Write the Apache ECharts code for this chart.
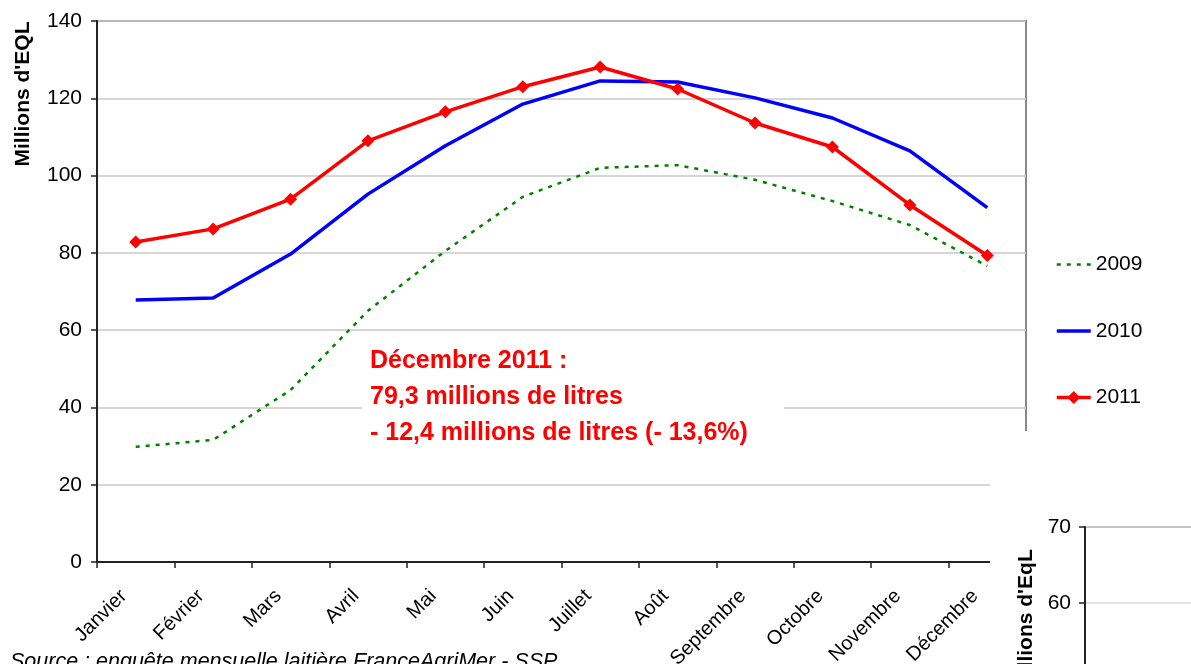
<!DOCTYPE html>
<html><head><meta charset="utf-8">
<script src="https://cdn.jsdelivr.net/npm/echarts@6/dist/echarts.min.js"></script>
<style>html,body{margin:0;padding:0;background:#fff}#c{width:1191px;height:664px}</style>
</head><body><div id="c"></div>
<script>
const months = ['Janvier','Février','Mars','Avril','Mai','Juin','Juillet','Août','Septembre','Octobre','Novembre','Décembre'];
const s2009 = [29.8, 31.6, 44.5, 65.0, 80.5, 94.5, 102.0, 102.7, 98.9, 93.4, 87.2, 76.6];
const s2010 = [67.8, 68.3, 79.7, 95.2, 107.7, 118.5, 124.5, 124.2, 120.1, 114.9, 106.4, 91.7];
const s2011 = [82.8, 86.2, 93.9, 109.0, 116.5, 123.0, 128.1, 122.4, 113.6, 107.4, 92.4, 79.3];
const yTicks = [0, 20, 40, 60, 80, 100, 120, 140];
const y2Ticks = [60, 70];
const yName = "Millions d'EQL";
const y2Name = "Millions d'EqL";
const noteLines = ['Décembre 2011 :', '79,3 millions de litres', '- 12,4 millions de litres (- 13,6%)'];
const sourceText = 'Source : enquête mensuelle laitière FranceAgriMer - SSP';

const FONT = 'Liberation Sans, Arial, sans-serif';
const GREEN = '#008000', BLUE = '#0000FF', RED = '#FF0000';
const chart = echarts.init(document.getElementById('c'), null, {renderer: 'canvas'});
chart.setOption({
  animation: false,
  backgroundColor: '#fff',
  textStyle: {fontFamily: FONT, color: '#000'},
  grid: [
    {left: 97, top: 21, width: 929, height: 541, show: true, borderColor: '#888', borderWidth: 2,
     backgroundColor: 'transparent', z: 0, containLabel: false, outerBoundsMode: 'none'},
    {left: 1085, top: 527, width: 200, height: 152, show: true, borderColor: '#888', borderWidth: 2,
     backgroundColor: '#fff', z: 10, containLabel: false, outerBoundsMode: 'none'}
  ],
  xAxis: [
    {type: 'category', gridIndex: 0, data: months, boundaryGap: true,
     axisLine: {lineStyle: {color: '#222', width: 2}},
     axisTick: {show: true, alignWithLabel: false, length: 6, lineStyle: {color: '#222', width: 1.5}},
     axisLabel: {rotate: 45, margin: 19, padding: [0, 17, 0, 0], fontSize: 20, color: '#000', fontFamily: FONT, interval: 0},
     splitLine: {show: false}},
    {type: 'value', gridIndex: 1, min: 0, max: 1, show: false}
  ],
  yAxis: [
    {type: 'value', gridIndex: 0, min: yTicks[0], max: yTicks[yTicks.length-1], interval: 20,
     axisLine: {show: true, lineStyle: {color: '#222', width: 2}},
     axisTick: {show: true, length: 6, inside: false, lineStyle: {color: '#222', width: 1.5}},
     axisLabel: {fontSize: 21, color: '#000', margin: 15, fontFamily: FONT},
     splitLine: {show: true, lineStyle: {color: '#c8c8c8', width: 1.5}}},
    {type: 'value', gridIndex: 1, min: 50, max: y2Ticks[y2Ticks.length-1], interval: 10, z: 11,
     axisLine: {show: true, lineStyle: {color: '#222', width: 2}},
     axisTick: {show: true, length: 6, lineStyle: {color: '#222', width: 1.5}},
     axisLabel: {fontSize: 21, color: '#000', margin: 14, fontFamily: FONT,
                 formatter: v => (y2Ticks.indexOf(v) >= 0 ? String(v) : '')},
     splitLine: {show: true, lineStyle: {color: '#d8d8d8', width: 1.5}}}
  ],
  legend: {
    orient: 'vertical', left: 1055, top: 254, padding: 0, itemWidth: 34, itemHeight: 16, itemGap: 45.5,
    textStyle: {fontSize: 21, color: '#000', fontFamily: FONT},
    data: [
      {name: '2009', itemStyle: {color: 'rgba(0,0,0,0)', opacity: 0}, lineStyle: {color: GREEN, width: 2.5, type: [4, 6]}},
      {name: '2010', itemStyle: {color: 'rgba(0,0,0,0)', opacity: 0}, lineStyle: {color: BLUE, width: 3.5}},
      {name: '2011', itemStyle: {color: RED}, lineStyle: {color: RED, width: 3.5}}
    ]
  },
  series: [
    {name: '2009', type: 'line', data: s2009, xAxisIndex: 0, yAxisIndex: 0, symbol: 'none',
     lineStyle: {color: GREEN, width: 2.5, type: [4, 6]}, itemStyle: {color: GREEN}},
    {name: '2010', type: 'line', data: s2010, xAxisIndex: 0, yAxisIndex: 0, symbol: 'none',
     lineStyle: {color: BLUE, width: 3.5}, itemStyle: {color: BLUE}},
    {name: '2011', type: 'line', data: s2011, xAxisIndex: 0, yAxisIndex: 0, symbol: 'diamond', symbolSize: 13,
     lineStyle: {color: RED, width: 3.5}, itemStyle: {color: RED}}
  ],
  graphic: [
    {type: 'rect', left: 990, top: 431, shape: {width: 201, height: 233}, style: {fill: '#fff'}, z: 5},
    {type: 'text', x: 23, y: 94, rotation: Math.PI / 2, z: 6,
     style: {text: yName, font: 'bold 21px ' + FONT, fill: '#000', align: 'center', verticalAlign: 'middle'}},
    {type: 'text', x: 1026, y: 620, rotation: Math.PI / 2, z: 12,
     style: {text: y2Name, font: 'bold 21px ' + FONT, fill: '#000', align: 'center', verticalAlign: 'middle'}},
    {type: 'text', left: 362, top: 339, z: 6,
     style: {text: noteLines.join('\n'), font: 'bold 25px ' + FONT, fill: RED, lineHeight: 36,
             backgroundColor: '#fff', padding: [4, 36, 6, 8]}},
    {type: 'text', left: 10, top: 651, z: 6,
     style: {text: sourceText, font: 'italic 21.5px ' + FONT, fill: '#000'}}
  ]
});
</script></body></html>
